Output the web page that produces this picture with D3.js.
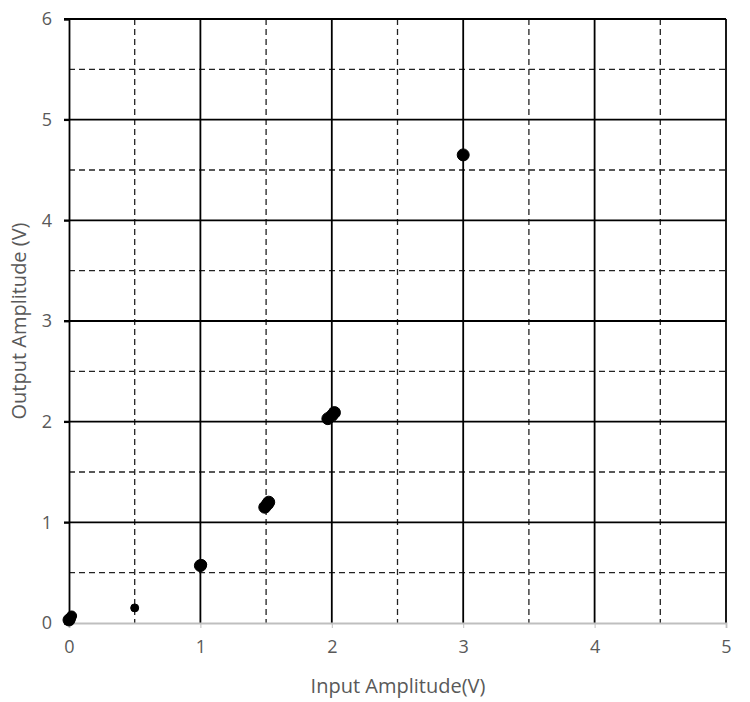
<!DOCTYPE html>
<html><head><meta charset="utf-8">
<script src="https://cdn.jsdelivr.net/npm/d3@7"></script>
<style>body{margin:0;background:#fff}svg{display:block}text{font-family:"Open Sans",sans-serif}</style>
</head><body>
<svg id="c" width="750" height="702"></svg>
<script>
const xTicks = [0,1,2,3,4,5];
const yTicks = [0,1,2,3,4,5,6];
const xMinor = [0.5,1.5,2.5,3.5,4.5];
const yMinor = [0.5,1.5,2.5,3.5,4.5,5.5];
const inputV  = [0.00,0.01,0.02,0.01,0.50,1.00,1.01,1.49,1.51,1.52,1.97,2.00,2.02,3.00];
const outputV = [0.03,0.05,0.07,0.04,0.15,0.57,0.58,1.15,1.18,1.20,2.03,2.06,2.09,4.65];
const pointR  = [6,5,5,5,4,6,5,6,6,6,6,6,6,6];
const xTitle = "Input Amplitude(V)";
const yTitle = "Output Amplitude (V)";

const svg = d3.select("#c");
const L=69,R=726,T=19,B=623;
const x = d3.scaleLinear().domain([0,5]).range([L,R]);
const y = d3.scaleLinear().domain([0,6]).range([B,T]);

// minor dashed grid
svg.append("g").selectAll("line").data(xMinor).join("line")
  .attr("x1",d=>x(d)).attr("x2",d=>x(d)).attr("y1",T).attr("y2",B)
  .attr("stroke","#222").attr("stroke-width",1.3).attr("stroke-dasharray","6,4");
svg.append("g").selectAll("line").data(yMinor).join("line")
  .attr("y1",d=>y(d)).attr("y2",d=>y(d)).attr("x1",L).attr("x2",R)
  .attr("stroke","#222").attr("stroke-width",1.3).attr("stroke-dasharray","6,4");
// major solid grid
svg.append("g").selectAll("line").data(xTicks.slice(1)).join("line")
  .attr("x1",d=>x(d)).attr("x2",d=>x(d)).attr("y1",T).attr("y2",B)
  .attr("stroke","#000").attr("stroke-width",1.8);
svg.append("g").selectAll("line").data(yTicks.slice(1)).join("line")
  .attr("y1",d=>y(d)).attr("y2",d=>y(d)).attr("x1",L-5).attr("x2",R)
  .attr("stroke","#000").attr("stroke-width",1.8);

// x axis (light gray)
const xa = svg.append("g").attr("transform",`translate(0,${B})`)
  .call(d3.axisBottom(x).tickValues(xTicks).tickSize(5).tickPadding(12).tickFormat(d3.format("d")));
xa.select(".domain").attr("stroke","#bfbfbf").attr("stroke-width",1.8);
xa.selectAll(".tick line").attr("stroke","#bfbfbf");
xa.selectAll("text").attr("fill","#595959").attr("font-size",18);

// y axis
const ya = svg.append("g").attr("transform",`translate(${L},0)`)
  .call(d3.axisLeft(y).tickValues(yTicks).tickSize(5).tickPadding(12).tickFormat(d3.format("d")));
ya.select(".domain").attr("stroke","#000").attr("stroke-width",1.8);
ya.selectAll(".tick line").attr("stroke","#000").attr("stroke-width",1.8);
ya.selectAll("text").attr("fill","#595959").attr("font-size",18);

// points
svg.append("g").selectAll("circle").data(inputV.map((v,i)=>[v,outputV[i],pointR[i]])).join("circle")
  .attr("cx",d=>x(d[0])).attr("cy",d=>y(d[1])).attr("r",d=>d[2])
  .attr("fill","#000").attr("stroke","#000").attr("stroke-width",1);

// titles
svg.append("text").attr("x",398).attr("y",693).attr("text-anchor","middle")
  .attr("fill","#595959").attr("font-size",20).text(xTitle);
svg.append("text").attr("transform",`translate(26,${(T+B)/2}) rotate(-90)`).attr("text-anchor","middle")
  .attr("fill","#595959").attr("font-size",20).text(yTitle);
</script>
</body></html>
